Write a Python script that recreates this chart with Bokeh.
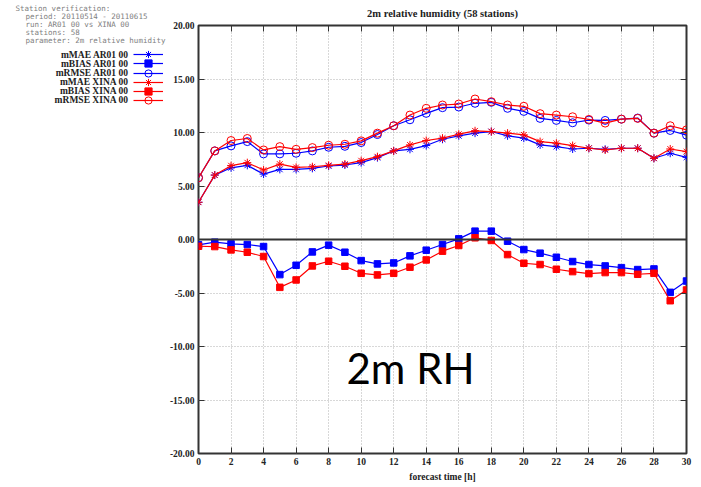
from bokeh.plotting import figure
from bokeh.layouts import row, column
from bokeh.models import (ColumnDataSource, Label, Legend, LegendItem, LinearAxis, Range1d,
                          FixedTicker, PrintfTickFormatter, CustomJSTickFormatter, Span)
from bokeh.embed import file_html
from bokeh.resources import INLINE

# ---------------- data ----------------
hours = list(range(31))
x_ticks = list(range(0, 31, 2))
y_ticks = [-20, -15, -10, -5, 0, 5, 10, 15, 20]

mae_ar01 = [3.48, 6.02, 6.70, 6.93, 6.11, 6.55, 6.55, 6.65, 6.87, 6.96, 7.18, 7.65, 8.28, 8.43, 8.78,
            9.37, 9.69, 9.94, 10.09, 9.69, 9.47, 8.84, 8.68, 8.46, 8.53, 8.43, 8.53, 8.53, 7.59, 8.06, 7.68]
bias_ar01 = [-0.50, -0.25, -0.41, -0.47, -0.66, -3.28, -2.41, -1.16, -0.53, -1.19, -1.97, -2.28, -2.19, -1.53, -1.00,
             -0.47, 0.06, 0.78, 0.78, -0.16, -0.94, -1.28, -1.66, -2.06, -2.34, -2.47, -2.63, -2.81, -2.75, -4.94, -3.88]
rmse_ar01 = [5.77, 8.28, 8.75, 9.15, 8.00, 8.00, 8.06, 8.28, 8.62, 8.71, 9.06, 9.81, 10.63, 11.19, 11.79,
             12.32, 12.38, 12.73, 12.82, 12.26, 11.97, 11.32, 11.13, 10.91, 11.16, 11.13, 11.25, 11.35, 9.94, 10.19, 9.75]
mae_xina = [3.48, 6.02, 6.90, 7.18, 6.49, 7.05, 6.74, 6.80, 6.93, 7.05, 7.37, 7.74, 8.28, 8.84, 9.25,
            9.47, 9.84, 10.16, 10.09, 9.94, 9.78, 9.15, 9.00, 8.78, 8.53, 8.37, 8.53, 8.53, 7.59, 8.46, 8.21]
bias_xina = [-0.63, -0.66, -0.97, -1.19, -1.59, -4.47, -3.78, -2.47, -2.03, -2.50, -3.16, -3.31, -3.16, -2.59, -1.91,
             -1.09, -0.56, 0.16, -0.09, -1.41, -2.22, -2.34, -2.78, -3.00, -3.19, -3.09, -3.09, -3.25, -3.16, -5.72, -4.72]
rmse_xina = [5.77, 8.28, 9.25, 9.44, 8.37, 8.68, 8.43, 8.59, 8.81, 8.90, 9.22, 9.94, 10.63, 11.63, 12.26,
             12.57, 12.66, 13.13, 12.88, 12.57, 12.45, 11.76, 11.63, 11.47, 11.22, 10.88, 11.25, 11.32, 9.94, 10.63, 10.25]

series_names = ["mMAE AR01 00", "mBIAS AR01 00", "mRMSE AR01 00",
                "mMAE XINA 00", "mBIAS XINA 00", "mRMSE XINA 00"]
series_values = [mae_ar01, bias_ar01, rmse_ar01, mae_xina, bias_xina, rmse_xina]
series_colors = ["#0000ff", "#0000ff", "#0000ff", "#ff0000", "#ff0000", "#ff0000"]
series_markers = ["asterisk", "square", "circle", "asterisk", "square", "circle"]

title_text = "2m relative humidity (58 stations)"
x_label = "forecast time [h]"
info_lines = ["Station verification:",
              "period: 20110514 - 20110615",
              "run: AR01 00 vs XINA 00",
              "stations: 58",
              "parameter: 2m relative humidity"]
overlay_text = "2m RH"

SERIF = "Liberation Serif"
TEXT_COL = "#222222"
W, H = 701, 487
LEFT_W = 166          # width of the left panel (info block + legend)
TITLE_H = 20          # height of the title band above the chart
FL, FR, FT, FB = 198, 686, 25, 453   # chart frame edges, page pixels

src = ColumnDataSource(dict(hours=hours, **{f"s{i}": v for i, v in enumerate(series_values)}))


def add_series(fig, visible=True):
    out = []
    for i, (color, marker) in enumerate(zip(series_colors, series_markers)):
        col = f"s{i}"
        lr = fig.line("hours", col, source=src, line_color=color, line_width=1.2, visible=visible)
        if marker == "square":
            sr = fig.scatter("hours", col, source=src, marker="square", size=6.5,
                             line_color=color, fill_color=color, line_width=1, visible=visible)
        elif marker == "circle":
            sr = fig.scatter("hours", col, source=src, marker="circle", size=8,
                             line_color=color, fill_color=None, line_width=1, visible=visible)
        else:
            sr = fig.scatter("hours", col, source=src, marker="asterisk", size=8,
                             line_color=color, line_width=1, visible=visible)
        out.append((lr, sr))
    return out


def blank_panel(width, height):
    f = figure(width=width, height=height, x_range=Range1d(0, width), y_range=Range1d(height, 0),
               title=None, output_backend="svg", toolbar_location=None,
               x_axis_location=None, y_axis_location=None,
               min_border=0, min_border_left=0, min_border_right=0, min_border_top=0, min_border_bottom=0)
    f.outline_line_color = None
    f.grid.visible = False
    f.background_fill_color = "white"
    f.border_fill_color = "white"
    return f


# ---------------- main chart ----------------
p = figure(width=W - LEFT_W, height=H - TITLE_H, x_range=(0, 30), y_range=(-20, 20), title=None,
           output_backend="svg", toolbar_location=None,
           min_border_left=FL - LEFT_W, min_border_right=W - FR,
           min_border_top=FT - TITLE_H, min_border_bottom=H - FB)
p.background_fill_color = "white"
p.border_fill_color = "white"
p.outline_line_color = "#333333"
p.outline_line_width = 2

for ax in (p.xaxis[0], p.yaxis[0]):
    ax.axis_line_color = None
    ax.major_tick_in = 6
    ax.major_tick_out = 0
    ax.minor_tick_in = 0
    ax.minor_tick_out = 0
    ax.major_tick_line_color = "#333333"
    ax.major_label_text_font = SERIF
    ax.major_label_text_font_style = "bold"
    ax.major_label_text_font_size = "9.5px"
    ax.major_label_text_color = TEXT_COL
p.xaxis.ticker = FixedTicker(ticks=x_ticks)
p.yaxis.ticker = FixedTicker(ticks=y_ticks)
p.yaxis.formatter = PrintfTickFormatter(format="%.2f")
p.yaxis.major_label_standoff = 4
p.xaxis.major_label_standoff = 4
p.xaxis.axis_label = x_label
p.xaxis.axis_label_text_font = SERIF
p.xaxis.axis_label_text_font_style = "bold"
p.xaxis.axis_label_text_font_size = "9.5px"
p.xaxis.axis_label_text_color = TEXT_COL
p.xaxis.axis_label_standoff = 4

blank = CustomJSTickFormatter(code="return ''")
top_ax = LinearAxis(ticker=FixedTicker(ticks=x_ticks), formatter=blank, axis_line_color=None,
                    major_tick_in=6, major_tick_out=0, minor_tick_in=0, minor_tick_out=0,
                    major_tick_line_color="#333333", major_label_standoff=0,
                    major_label_text_font_size="1px")
right_ax = LinearAxis(ticker=FixedTicker(ticks=y_ticks), formatter=blank, axis_line_color=None,
                      major_tick_in=6, major_tick_out=0, minor_tick_in=0, minor_tick_out=0,
                      major_tick_line_color="#333333", major_label_standoff=0,
                      major_label_text_font_size="1px")
p.add_layout(top_ax, "above")
p.add_layout(right_ax, "right")

p.xgrid.ticker = FixedTicker(ticks=x_ticks)
p.ygrid.ticker = FixedTicker(ticks=y_ticks)
for g in (p.xgrid[0], p.ygrid[0]):
    g.grid_line_color = "#b0b0b0"
    g.grid_line_dash = "1 2"
    g.grid_line_width = 1

p.add_layout(Span(location=0, dimension="width", line_color="#333333", line_width=2))

add_series(p)

p.add_layout(Label(x=410 - FL, y=FB - 367, x_units="screen", y_units="screen",
                   text=overlay_text, text_align="center", text_baseline="middle",
                   text_font="Lato", text_font_size="42px", text_color="black"))

# ---------------- title band (page coordinates) ----------------
tf = blank_panel(W - LEFT_W, TITLE_H)
tf.add_layout(Label(x=(FL + FR) / 2 - LEFT_W, y=12.7, text=title_text,
                    text_align="center", text_baseline="middle",
                    text_font=SERIF, text_font_style="bold", text_font_size="10.5px",
                    text_color=TEXT_COL))

# ---------------- left panel: info block + legend (page coordinates) ----------------
pl = blank_panel(LEFT_W, H)
hidden = add_series(pl, visible=False)
GLYPH_H = 18
for i, (lr, sr) in enumerate(hidden):
    cy = 54.3 + 9.1 * i
    lg = Legend(items=[LegendItem(label="", renderers=[lr, sr])],
                location=(133, H - (cy + GLYPH_H / 2)), orientation="vertical",
                glyph_width=30, glyph_height=GLYPH_H, spacing=0, padding=0, margin=0,
                label_width=0, label_height=0, label_standoff=0, label_text_font_size="5px",
                background_fill_alpha=0, border_line_alpha=0, inactive_fill_alpha=0,
                click_policy="none")
    pl.add_layout(lg)

for i, name in enumerate(series_names):
    pl.add_layout(Label(x=128, y=54.3 + 9.1 * i, text=name, text_align="right", text_baseline="middle",
                        text_font=SERIF, text_font_style="bold", text_font_size="9.5px",
                        text_color=TEXT_COL))

for i, line in enumerate(info_lines):
    pl.add_layout(Label(x=15 if i == 0 else 25, y=7.5 + 8 * i, text=line,
                        text_align="left", text_baseline="middle",
                        text_font="DejaVu Sans Mono", text_font_size="7.5px", text_color="#808080"))

for f in (p, tf, pl):
    try:
        f.frame_align = False
    except AttributeError:
        pass

layout = row(pl, column(tf, p, spacing=0), spacing=0)
open("out.html", "w").write(file_html(layout, INLINE))
